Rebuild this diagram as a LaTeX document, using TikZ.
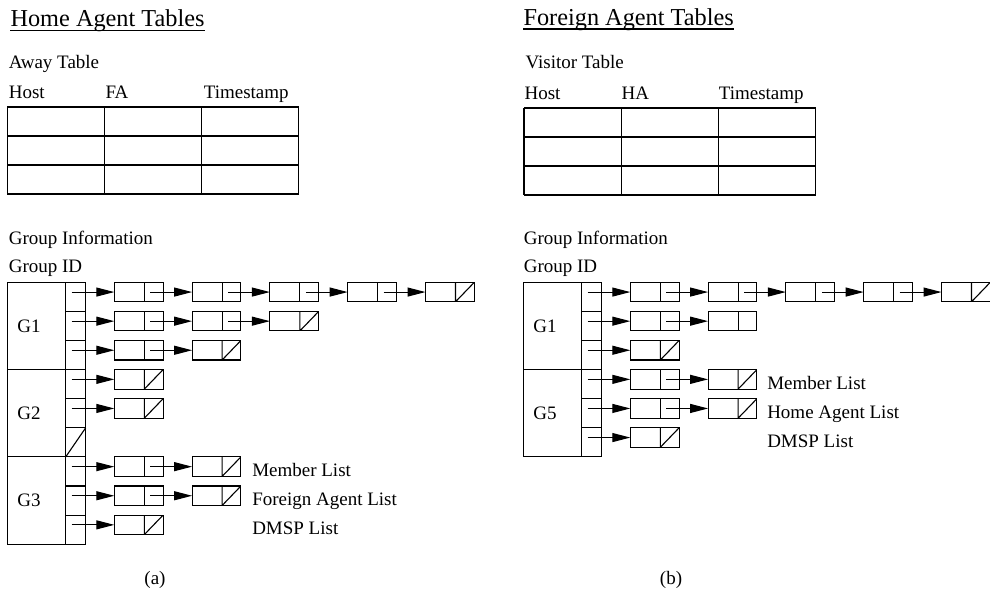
\documentclass[tikz,border=0pt]{standalone}
\usepackage{fontspec}
\setmainfont{Liberation Serif}
\usetikzlibrary{positioning, arrows.meta, calc}

\tikzset{
  cell/.style={draw, minimum width=48.8pt, minimum height=19.5pt, inner sep=0pt, outer sep=0pt,
    path picture={\draw ([xshift=30pt]path picture bounding box.north west) -- ([xshift=30pt]path picture bounding box.south west);}},
  nilcell/.style={cell,
    path picture={\draw ([xshift=30pt]path picture bounding box.north west) -- ([xshift=30pt]path picture bounding box.south west) -- (path picture bounding box.north east);}},
  slot/.style={draw, minimum width=20pt, minimum height=29.1pt, inner sep=0pt, outer sep=0pt, anchor=north west},
  group/.style={draw, minimum height=87.3pt, text width=38.4pt, inner xsep=10pt, inner ysep=0pt, outer sep=0pt, anchor=north west, align=left},
  txt/.style={inner sep=0pt, anchor=base west},
  head/.style={txt, font=\fontsize{24.3}{28}\selectfont},
  link/.style={->, >={Triangle[length=18pt,width=9pt]}}
}

\begin{document}
\begin{tikzpicture}[x=1pt, y=-1pt, line width=1.1pt, font=\fontsize{19}{23}\selectfont]
\useasboundingbox (0,0) rectangle (990,595);

%% (a) home agent
\node[head] (hat) at (10,26) {Home Agent Tables};
\draw ([yshift=-4.7pt]hat.base west) -- ([yshift=-4.7pt]hat.base east);
\node[txt] (away) at (8.3,68.3) {Away Table};
\node[txt] (ahost) at (8.3,98.3) {Host};
\node[txt] (afa) at (105,98.3) {FA};
\node[txt] (atime) at (203.3,98.3) {Timestamp};
\foreach \r in {0,...,3} \draw (7.3,107+29*\r) -- ++(291.6,0);
\foreach \c in {0,...,3} \draw (7.3+97.2*\c,107) -- ++(0,87);

\node[txt] (ainfo) at (8.3,244.3) {Group Information};
\node[txt] (aid) at (8.3,272.3) {Group ID};
\node[group] (g1) at (7.3,282.3) {G1};
\node[group, below=0pt of g1] (g2) {G2};
\node[group, below=0pt of g2] (g3) {G3};
\foreach \g in {1,2,3} {
  \node[slot] (s\g1) at (g\g.north east) {};
  \node[slot, below=0pt of s\g1] (s\g2) {};
  \node[slot, below=0pt of s\g2] (s\g3) {};
}
\draw (s23.south west) -- (s23.north east);

\foreach \s/\k in {11/cell, 12/cell, 13/cell, 21/nilcell, 22/nilcell, 31/cell, 32/cell, 33/nilcell}
  \node[\k, anchor=north west] (l\s1) at ([xshift=28.6pt]s\s.north east) {};
\node[cell, right=29pt of l111] (l112) {};
\node[cell, right=29pt of l112] (l113) {};
\node[cell, right=29pt of l113] (l114) {};
\node[nilcell, right=29pt of l114] (l115) {};
\node[cell, right=29pt of l121] (l122) {};
\node[nilcell, right=29pt of l122] (l123) {};
\node[nilcell, right=29pt of l131] (l132) {};
\node[nilcell, right=29pt of l311] (l312) {};
\node[nilcell, right=29pt of l321] (l322) {};

\foreach \s in {11,12,13,21,22,31,32,33}
  \draw[link] ($(s\s.west |- l\s1.west)+(6,0)$) -- (l\s1.west);
\foreach \a/\b in {111/112, 112/113, 113/114, 114/115, 121/122, 122/123, 131/132, 311/312, 321/322}
  \draw[link] ([xshift=36pt]l\a.west) -- (l\b.west);

\node[txt] (amem) at (251.7,476) {Member List};
\node[txt] (afal) at (251.7,505.5) {Foreign Agent List};
\node[txt] (admsp) at (251.7,534.5) {DMSP List};
\node[txt, anchor=base] (capa) at (155,584) {(a)};

%% (b) foreign agent
\node[head] (fat) at (523,25) {Foreign Agent Tables};
\draw ([yshift=-4pt]fat.base west) -- ([yshift=-4pt]fat.base east);
\node[txt] (visit) at (525,68.3) {Visitor Table};
\node[txt] (bhost) at (524,99) {Host};
\node[txt] (bha) at (621,99) {HA};
\node[txt] (btime) at (718.3,99) {Timestamp};
\foreach \r in {0,...,3} \draw (524,108+29*\r) -- ++(291.6,0);
\foreach \c in {0,...,3} \draw (524+97.2*\c,108) -- ++(0,87);

\node[txt] (binfo) at (523.3,244.3) {Group Information};
\node[txt] (bid) at (523.3,272.3) {Group ID};
\node[group] (k1) at (523.3,282.3) {G1};
\node[group, below=0pt of k1] (k5) {G5};
\foreach \g in {1,5} {
  \node[slot] (t\g1) at (k\g.north east) {};
  \node[slot, below=0pt of t\g1] (t\g2) {};
  \node[slot, below=0pt of t\g2] (t\g3) {};
}

\foreach \s/\k in {11/cell, 12/cell, 13/nilcell, 51/cell, 52/cell, 53/nilcell}
  \node[\k, anchor=north west] (r\s1) at ([xshift=28.6pt]t\s.north east) {};
\node[cell, right=29pt of r111] (r112) {};
\node[cell, right=29pt of r112] (r113) {};
\node[cell, right=29pt of r113] (r114) {};
\node[nilcell, right=29pt of r114] (r115) {};
\node[cell, right=29pt of r121] (r122) {};
\node[nilcell, right=29pt of r511] (r512) {};
\node[nilcell, right=29pt of r521] (r522) {};

\foreach \s in {11,12,13,51,52,53}
  \draw[link] ($(t\s.west |- r\s1.west)+(6,0)$) -- (r\s1.west);
\foreach \a/\b in {111/112, 112/113, 113/114, 114/115, 121/122, 511/512, 521/522}
  \draw[link] ([xshift=36pt]r\a.west) -- (r\b.west);

\node[txt] (bmem) at (766.7,389.3) {Member List};
\node[txt] (bhal) at (766.7,418.3) {Home Agent List};
\node[txt] (bdmsp) at (766.7,447.3) {DMSP List};
\node[txt, anchor=base] (capb) at (671,584) {(b)};
\end{tikzpicture}
\end{document}
